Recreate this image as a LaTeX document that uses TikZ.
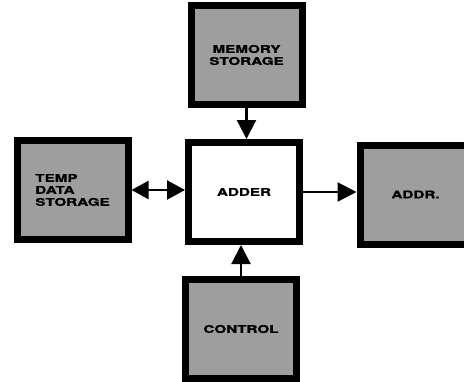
\documentclass[tikz,border=0pt]{standalone}
\usepackage{fontspec}
\usetikzlibrary{arrows.meta}
\newfontfamily\blocklabel{TeX Gyre Heros}[FakeStretch=1.45,FakeBold=1.2]
\begin{document}
\begin{tikzpicture}[x=1pt,y=-1pt,
  unit/.style={draw=black, line width=7pt, inner sep=0pt,
    minimum width=111pt, minimum height=99pt,
    font=\blocklabel\bfseries\fontsize{10.5}{12}\selectfont, align=center},
  store/.style={unit, fill=black!38},
  head/.style={Triangle[length=19pt,width=19pt]},
  flow/.style={line width=2.2pt, -{Triangle[length=19pt,width=19pt]}},
  bothflow/.style={line width=2.2pt, {Triangle[length=17pt,width=18pt]}-{Triangle[length=18pt,width=19pt]}}]
  \useasboundingbox (0,0) rectangle (464,381);
  \clip (0,0) rectangle (464,381);

  % the five blocks
  \node[store] (memory) at (246.5,55) {MEMORY\\STORAGE};
  \node[store, align=left] (temp) at (72.5,190) {TEMP\\DATA\\STORAGE};
  \node[unit, fill=white] (adder) at (244,192) {ADDER};
  \node[store] (addr) at (415.5,194.5) {ADDR.};
  \node[store] (control) at (241,329) {CONTROL};

  % data paths
  \draw[flow] (memory.south) -- (memory.south |- adder.north);
  \draw[bothflow] (temp.east) -- (temp.east -| adder.west);
  \draw[flow] (adder.east) -- (adder.east -| addr.west);
  \draw[flow] (control.north) -- (control.north |- adder.south);
\end{tikzpicture}
\end{document}
